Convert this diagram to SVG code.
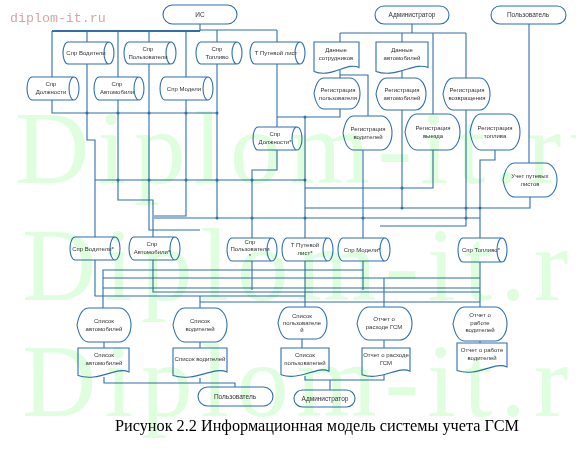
<svg xmlns="http://www.w3.org/2000/svg" width="576" height="449" viewBox="0 0 576 449">
<style>
.s{fill:#fff;stroke:#2e6fb0;stroke-width:1.1}
.c{fill:none;stroke:#2e6fb0;stroke-width:1.1}
.t{font-family:"Liberation Sans",Arial,sans-serif;font-size:6px;fill:#333;text-anchor:middle}
.tt{font-family:"Liberation Sans",Arial,sans-serif;font-size:6.5px;fill:#333;text-anchor:middle}
.wm{font-family:"Liberation Serif","Times New Roman",serif;font-size:103px;letter-spacing:8px;fill:#defede;mix-blend-mode:multiply}
.d{fill:#2e6fb0}
</style>
<rect width="576" height="449" fill="#fff"/>
<g id="connectors">
<polyline class="c" points="200,24 200,31"/>
<polyline class="c" style="stroke-width:2" points="52,31 200,31"/>
<polyline class="c" points="200,30 277,30"/>
<polyline class="c" points="52,31 52,113 217,113"/>
<polyline class="c" points="87,31 87,140 95,140 95,237"/>
<polyline class="c" points="118,31 118,200 153,200 153,237"/>
<polyline class="c" points="149,31 149,230 200,230"/>
<polyline class="c" points="186,31 186,216 154,216"/>
<polyline class="c" points="217,30 217,218"/>
<polyline class="c" points="277,30 277,127"/>
<polyline class="c" points="95,180 305,180"/>
<polyline class="c" points="154,218 480,218"/>
<polyline class="c" points="277,150 277,170 252,170 252,238"/>
<polyline class="c" points="277,117 305,117 305,238"/>
<polyline class="c" points="305,117 340,117 340,109"/>
<polyline class="c" points="412,24 412,33"/>
<polyline class="c" points="340,33 466,33"/>
<polyline class="c" points="340,33 340,42"/>
<polyline class="c" points="402,33 402,42"/>
<polyline class="c" points="433,33 433,114"/>
<polyline class="c" points="466,33 466,78"/>
<polyline class="c" points="340,70 340,78"/>
<polyline class="c" points="340,75 368,75 368,116"/>
<polyline class="c" points="402,70 402,78"/>
<polyline class="c" points="402,110 402,208"/>
<polyline class="c" points="433,150 433,188 305,188"/>
<polyline class="c" points="466,110 466,226 380,226"/>
<polyline class="c" points="495,150 495,160 480,160 480,238"/>
<polyline class="c" points="529,24 529,163"/>
<polyline class="c" points="530,197 530,208 305,208"/>
<polyline class="c" points="363,150 363,238"/>
<polyline class="c" points="95,260 95,296 305,296"/>
<polyline class="c" points="153,260 153,292 480,292"/>
<polyline class="c" points="103,308 103,270 363,270"/>
<polyline class="c" points="103,278 480,278"/>
<polyline class="c" points="103,288 480,288"/>
<polyline class="c" points="200,302 480,302"/>
<polyline class="c" points="200,296 200,308"/>
<polyline class="c" points="305,261 305,307"/>
<polyline class="c" points="252,261 252,290"/>
<polyline class="c" points="363,261 363,290"/>
<polyline class="c" points="384,278 384,307"/>
<polyline class="c" points="480,262 480,307"/>
<polyline class="c" points="104,342 104,348"/>
<polyline class="c" points="200,342 200,348"/>
<polyline class="c" points="302,339 302,348"/>
<polyline class="c" points="384,340 384,348"/>
<polyline class="c" points="480,341 480,343"/>
<polyline class="c" points="104,377 104,383 235,383 235,387"/>
<polyline class="c" points="200,378 200,383"/>
<polyline class="c" points="305,376 305,380 384,380 384,372"/>
<polyline class="c" points="330,380 330,390"/>
<circle class="d" cx="87" cy="113" r="1.5"/><circle class="d" cx="118" cy="113" r="1.5"/><circle class="d" cx="149" cy="113" r="1.5"/><circle class="d" cx="186" cy="113" r="1.5"/><circle class="d" cx="217" cy="113" r="1.5"/>
<circle class="d" cx="118" cy="180" r="1.5"/><circle class="d" cx="149" cy="180" r="1.5"/><circle class="d" cx="186" cy="180" r="1.5"/><circle class="d" cx="217" cy="180" r="1.5"/><circle class="d" cx="252" cy="180" r="1.5"/><circle class="d" cx="305" cy="180" r="1.5"/>
<circle class="d" cx="217" cy="218" r="1.5"/><circle class="d" cx="252" cy="218" r="1.5"/><circle class="d" cx="305" cy="218" r="1.5"/><circle class="d" cx="363" cy="218" r="1.5"/><circle class="d" cx="466" cy="218" r="1.5"/>
<circle class="d" cx="402" cy="188" r="1.5"/><circle class="d" cx="402" cy="208" r="1.5"/><circle class="d" cx="466" cy="208" r="1.5"/><circle class="d" cx="480" cy="208" r="1.5"/><circle class="d" cx="305" cy="117" r="1.5"/>
</g>
<g id="n-is"><rect class="s" x="163" y="5" width="74" height="19" rx="9.5"/><text class="tt" x="200" y="16.5">ИС</text></g>
<g id="n-admin"><rect class="s" x="375" y="6" width="74" height="18" rx="9"/><text class="tt" x="412" y="17">Администратор</text></g>
<g id="n-user"><rect class="s" x="491" y="6" width="75" height="18" rx="9"/><text class="tt" x="528" y="17">Пользователь</text></g>
<g id="n-c1"><path class="s" d="M68,42 H109 A5,11 0 0 1 109,64 H68 A5,11 0 0 1 68,42 Z M109,42 A5,11 0 0 0 109,64"/><text class="t" x="86" y="55">Спр Водители</text></g>
<g id="n-c2"><path class="s" d="M129,42 H171 A5,11 0 0 1 171,64 H129 A5,11 0 0 1 129,42 Z M171,42 A5,11 0 0 0 171,64"/><text class="t" x="148" y="51">Спр</text><text class="t" x="148" y="58.5">Пользователи</text></g>
<g id="n-c3"><path class="s" d="M201,42 H237 A5,11 0 0 1 237,64 H201 A5,11 0 0 1 201,42 Z M237,42 A5,11 0 0 0 237,64"/><text class="t" x="217" y="51">Спр</text><text class="t" x="217" y="58.5">Топливо</text></g>
<g id="n-c4"><path class="s" d="M255,42 H300 A5,11 0 0 1 300,64 H255 A5,11 0 0 1 255,42 Z M300,42 A5,11 0 0 0 300,64"/><text class="t" x="276" y="55">Т Путевой лист</text></g>
<g id="n-c5"><path class="s" d="M32,77 H74 A5,11.5 0 0 1 74,100 H32 A5,11.5 0 0 1 32,77 Z M74,77 A5,11.5 0 0 0 74,100"/><text class="t" x="51" y="86">Спр</text><text class="t" x="51" y="94">Должности</text></g>
<g id="n-c6"><path class="s" d="M99,77 H139 A5,11.5 0 0 1 139,100 H99 A5,11.5 0 0 1 99,77 Z M139,77 A5,11.5 0 0 0 139,100"/><text class="t" x="117" y="86">Спр</text><text class="t" x="117" y="94">Автомобили</text></g>
<g id="n-c7"><path class="s" d="M165,77 H208 A5,11.5 0 0 1 208,100 H165 A5,11.5 0 0 1 165,77 Z M208,77 A5,11.5 0 0 0 208,100"/><text class="t" x="184" y="91">Спр  Модели</text></g>
<g id="n-c8"><path class="s" d="M258,127 H297 A5,11.5 0 0 1 297,150 H258 A5,11.5 0 0 1 258,127 Z M297,127 A5,11.5 0 0 0 297,150"/><text class="t" x="275" y="136">Спр</text><text class="t" x="275" y="144">Должности*</text></g>
<g id="n-d1"><path class="s" d="M314,42 H359 V67.6 C347.8,61.2 332,78.8 314,71.4 Z"/><text class="t" x="336" y="52">Данные</text><text class="t" x="336" y="59.5">сотрудников</text></g>
<g id="n-d2"><path class="s" d="M376,42 H428 V67.6 C415,61.2 396.8,78.8 376,71.4 Z"/><text class="t" x="402" y="52">Данные</text><text class="t" x="402" y="59.5">автомобилей</text></g>
<g id="n-p1"><path class="s" d="M314,93.5 Q316.8,78 324.1,78 H349.9 A10.1,15.5 0 0 1 349.9,109 H324.1 Q316.8,109 314,93.5 Z"/><text class="t" x="338" y="92">Регистрация</text><text class="t" x="338" y="100">пользователя</text></g>
<g id="n-p2"><path class="s" d="M376,94 Q379,78 387,78 H415 A11,16 0 0 1 415,110 H387 Q379,110 376,94 Z"/><text class="t" x="402" y="92">Регистрация</text><text class="t" x="402" y="100">автомобилей</text></g>
<g id="n-p3"><path class="s" d="M443,94 Q445.8,78 453.3,78 H479.7 A10.3,16 0 0 1 479.7,110 H453.3 Q445.8,110 443,94 Z"/><text class="t" x="467" y="92">Регистрация</text><text class="t" x="467" y="100">возвращения</text></g>
<g id="n-p4"><path class="s" d="M343,133 Q345.9,116 353.8,116 H381.2 A10.8,17 0 0 1 381.2,150 H353.8 Q345.9,150 343,133 Z"/><text class="t" x="368" y="131">Регистрация</text><text class="t" x="368" y="139">водителей</text></g>
<g id="n-p5"><path class="s" d="M405,132 Q408.3,114 417.1,114 H447.9 A12.1,18 0 0 1 447.9,150 H417.1 Q408.3,150 405,132 Z"/><text class="t" x="433" y="130">Регистрация</text><text class="t" x="433" y="138">выезда</text></g>
<g id="n-p6"><path class="s" d="M470,132 Q473,114 481,114 H509 A11,18 0 0 1 509,150 H481 Q473,150 470,132 Z"/><text class="t" x="495" y="130">Регистрация</text><text class="t" x="495" y="138">топлива</text></g>
<g id="n-p7"><path class="s" d="M503,180 Q506.2,163 514.9,163 H545.1 A11.9,17 0 0 1 545.1,197 H514.9 Q506.2,197 503,180 Z"/><text class="t" x="530" y="178">Учет путевых</text><text class="t" x="530" y="186">листов</text></g>
<g id="n-c9"><path class="s" d="M75,237 H115 A5,11.5 0 0 1 115,260 H75 A5,11.5 0 0 1 75,237 Z M115,237 A5,11.5 0 0 0 115,260"/><text class="t" x="93" y="250.5">Спр Водители*</text></g>
<g id="n-c10"><path class="s" d="M134,237 H175 A5,11.5 0 0 1 175,260 H134 A5,11.5 0 0 1 134,237 Z M175,237 A5,11.5 0 0 0 175,260"/><text class="t" x="152" y="246">Спр</text><text class="t" x="152" y="254">Автомобили*</text></g>
<g id="n-c11"><path class="s" d="M232,238 H272 A5,11.5 0 0 1 272,261 H232 A5,11.5 0 0 1 232,238 Z M272,238 A5,11.5 0 0 0 272,261"/><text class="t" x="250" y="244">Спр</text><text class="t" x="250" y="251">Пользователи</text><text class="t" x="250" y="258">*</text></g>
<g id="n-c12"><path class="s" d="M287,238 H328 A5,11.5 0 0 1 328,261 H287 A5,11.5 0 0 1 287,238 Z M328,238 A5,11.5 0 0 0 328,261"/><text class="t" x="305" y="247">Т Путевой</text><text class="t" x="305" y="255">лист*</text></g>
<g id="n-c13"><path class="s" d="M343,238 H385 A5,11.5 0 0 1 385,261 H343 A5,11.5 0 0 1 343,238 Z M385,238 A5,11.5 0 0 0 385,261"/><text class="t" x="362" y="251.5">Спр Модели*</text></g>
<g id="n-c14"><path class="s" d="M463,238 H502 A5,12 0 0 1 502,262 H463 A5,12 0 0 1 463,238 Z M502,238 A5,12 0 0 0 502,262"/><text class="t" x="481" y="252">Спр Топливо*</text></g>
<g id="n-p8"><path class="s" d="M77,325 Q80.2,308 88.9,308 H119.1 A11.9,17 0 0 1 119.1,342 H88.9 Q80.2,342 77,325 Z"/><text class="t" x="104" y="323">Список</text><text class="t" x="104" y="331">автомобилей</text></g>
<g id="n-p9"><path class="s" d="M173,325 Q176.2,308 184.9,308 H215.1 A11.9,17 0 0 1 215.1,342 H184.9 Q176.2,342 173,325 Z"/><text class="t" x="200" y="323">Список</text><text class="t" x="200" y="331">водителей</text></g>
<g id="n-p10"><path class="s" d="M278,323 Q280.9,307 288.8,307 H316.2 A10.8,16 0 0 1 316.2,339 H288.8 Q280.9,339 278,323 Z"/><text class="t" x="302" y="318">Список</text><text class="t" x="302" y="325">пользователе</text><text class="t" x="302" y="332">й</text></g>
<g id="n-p11"><path class="s" d="M357,323.5 Q360.3,307 369.1,307 H399.9 A12.1,16.5 0 0 1 399.9,340 H369.1 Q360.3,340 357,323.5 Z"/><text class="t" x="384" y="321">Отчет о</text><text class="t" x="384" y="329">расходе ГСМ</text></g>
<g id="n-p12"><path class="s" d="M453,324 Q456.2,307 464.9,307 H495.1 A11.9,17 0 0 1 495.1,341 H464.9 Q456.2,341 453,324 Z"/><text class="t" x="480" y="317">Отчет о</text><text class="t" x="480" y="324.5">работе</text><text class="t" x="480" y="332">водителей</text></g>
<g id="n-d3"><path class="s" d="M78,348 H129 V372 C116.3,366 98.4,382.5 78,375.6 Z"/><text class="t" x="104" y="357">Список</text><text class="t" x="104" y="365">автомобилей</text></g>
<g id="n-d4"><path class="s" d="M173,348 H227 V372 C213.5,366 194.6,382.5 173,375.6 Z"/><text class="t" x="200" y="361">Список водителей</text></g>
<g id="n-d5"><path class="s" d="M281,348 H329 V371.2 C317,365.4 300.2,381.4 281,374.7 Z"/><text class="t" x="305" y="357">Список</text><text class="t" x="305" y="365">пользователей</text></g>
<g id="n-d6"><path class="s" d="M362,348 H410 V371.2 C398,365.4 381.2,381.4 362,374.7 Z"/><text class="t" x="386" y="357">Отчет о расходе</text><text class="t" x="386" y="365">ГСМ</text></g>
<g id="n-d7"><path class="s" d="M457,343 H507 V367 C494.5,361 477,377.5 457,370.6 Z"/><text class="t" x="482" y="352">Отчет о работе</text><text class="t" x="482" y="360">водителей</text></g>
<g id="n-user2"><rect class="s" x="198" y="387" width="75" height="19" rx="9.5"/><text class="tt" x="235" y="399">Пользователь</text></g>
<g id="n-admin2"><rect class="s" x="294" y="390" width="61" height="17" rx="8.5"/><text class="tt" x="325" y="401">Администратор</text></g>
<text x="115" y="431" font-family="'Liberation Serif','Times New Roman',serif" font-size="17" fill="#000" textLength="404" lengthAdjust="spacingAndGlyphs">Рисунок 2.2  Информационная модель системы учета ГСМ</text>
<text x="10" y="22" font-family="'Liberation Mono','Courier New',monospace" font-size="13.3" fill="#d8a4a4">diplom-it.ru</text>
<g id="watermark">
<text class="wm" x="15" y="183">Diplom-it.ru</text>
<text class="wm" x="22" y="300">Diplom-it.ru</text>
<text class="wm" x="22" y="416">Diplom-it.ru</text>
</g>
</svg>
